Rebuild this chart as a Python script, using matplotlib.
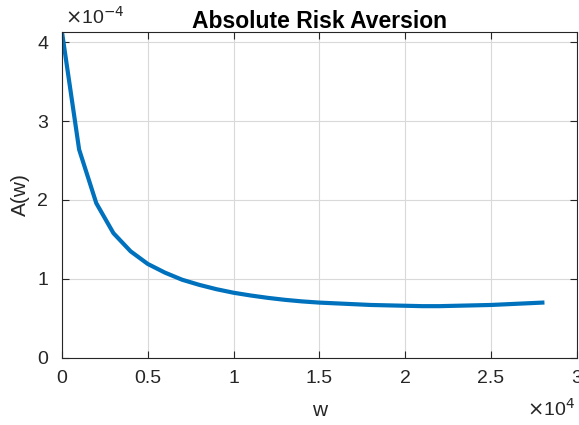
import matplotlib
matplotlib.use("Agg")
import matplotlib.pyplot as plt
import numpy as np

w = [0, 1000, 2000, 3000, 4000, 5000, 6000, 7000, 8000, 9000, 10000,
     11000, 12000, 13000, 14000, 15000, 16000, 17000, 18000, 19000, 20000,
     21000, 22000, 23000, 24000, 25000, 26000, 27000, 28000]
A = [4.13, 2.64, 1.96, 1.58, 1.35, 1.19, 1.08, 0.99, 0.925, 0.87, 0.825,
     0.79, 0.76, 0.735, 0.715, 0.70, 0.69, 0.68, 0.67, 0.665, 0.66,
     0.655, 0.655, 0.66, 0.665, 0.67, 0.68, 0.69, 0.70]
A = [a * 1e-4 for a in A]
xticks = [0, 0.5, 1, 1.5, 2, 2.5, 3]
yticks = [0, 1, 2, 3, 4]

plt.rcParams['font.family'] = ['Liberation Sans', 'DejaVu Sans']
fig = plt.figure(figsize=(5.79, 4.25), dpi=100)
ax = fig.add_axes([0.107, 0.158, 0.889, 0.767])
tc = '#262626'
ax.plot(np.array(w) / 1e4, np.array(A) / 1e-4, color='#0072BD', lw=3)
ax.set_xlim(0, 3)
ax.set_ylim(0, max(A) / 1e-4)
ax.set_xticks(xticks)
ax.set_xticklabels([f"{t:g}" for t in xticks])
ax.set_yticks(yticks)
ax.set_yticklabels([f"{t:g}" for t in yticks])
ax.grid(True, color='#d9d9d9', lw=0.8)
ax.set_axisbelow(True)
ax.tick_params(direction='in', top=True, right=True, labelsize=14, colors=tc, length=5, width=0.8)
ax.tick_params(axis='x', pad=9)
ax.tick_params(axis='y', pad=10)
for s in ax.spines.values():
    s.set_color(tc)
    s.set_linewidth(0.8)
ax.set_xlabel('w', fontsize=15, color=tc, labelpad=10)
ax.set_ylabel('A(w)', fontsize=15, color=tc, labelpad=5)
ax.set_title('Absolute Risk Aversion', fontsize=16.5, fontweight='bold', pad=3)
fig.text(0.112, 0.935, r'$\times$10$^{-4}$', fontsize=14, color=tc, ha='left', va='bottom')
fig.text(0.994, 0.012, r'$\times$10$^{4}$', fontsize=14, color=tc, ha='right', va='bottom')
fig.savefig('out.png', dpi=100)
